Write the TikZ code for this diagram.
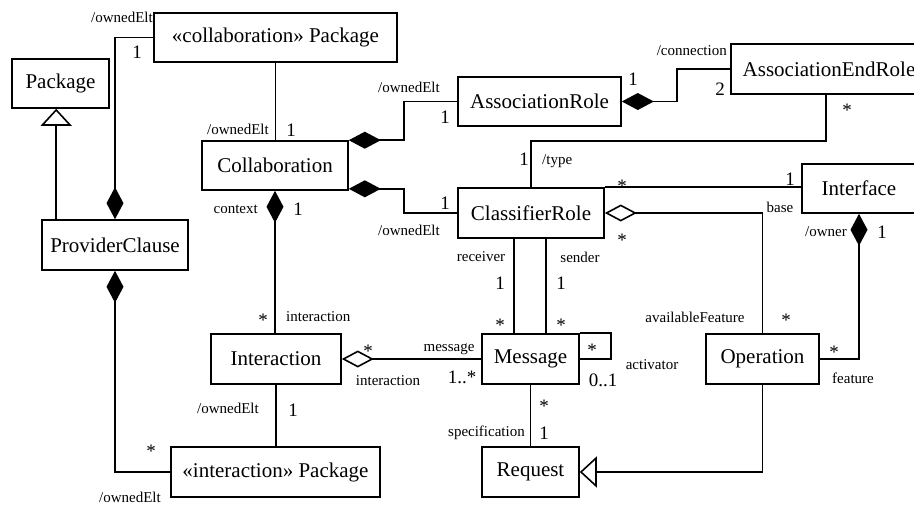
\documentclass[tikz,border=0pt]{standalone}
\usepackage{fontspec}
\setmainfont{Liberation Serif}
\usetikzlibrary{arrows.meta,calc}
\begin{document}
\begin{tikzpicture}[x=1pt,y=-1pt,
 box/.style={draw, line width=1.6pt, inner sep=0pt, font=\fontsize{21}{25}\selectfont},
 lbl/.style={inner sep=0pt, font=\fontsize{15}{18}\selectfont},
 mult/.style={inner sep=0pt, font=\fontsize{19}{22}\selectfont},
 star/.style={mult, yshift=-3pt},
 conn/.style={line width=1.6pt},
 comp/.style={conn, {Diamond[length=32pt,width=17pt]}-},
 aggr/.style={conn, {Diamond[open,length=32pt,width=17pt,fill=white]}-},
 gen/.style={conn, -{Triangle[open,length=17pt,width=31pt,fill=white]}},
]
\useasboundingbox (0,0) rectangle (914,504);

% boxes
\node[box, minimum width=243pt, minimum height=49pt] (cpkg) at (275.5,37.5) {«collaboration» Package};
\node[box, minimum width=97pt, minimum height=49pt] (pkg) at (60.5,83.5) {Package};
\node[box, minimum width=146pt, minimum height=50pt] (prov) at (115,245) {ProviderClause};
\node[box, minimum width=146pt, minimum height=49pt] (collab) at (275,165.5) {Collaboration};
\node[box, minimum width=163pt, minimum height=49pt] (assocrole) at (539.5,101.5) {AssociationRole};
\node[box, minimum width=196pt, minimum height=50pt] (aer) at (829,69) {AssociationEndRole};
\node[box, minimum width=146pt, minimum height=50pt] (classrole) at (531,213) {ClassifierRole};
\node[box, minimum width=114pt, minimum height=49pt] (iface) at (859,188.5) {Interface};
\node[box, minimum width=130pt, minimum height=50pt] (inter) at (276,359) {Interaction};
\node[box, minimum width=97pt, minimum height=50pt] (msg) at (530.5,359) {Message};
\node[box, minimum width=113pt, minimum height=50pt] (oper) at (762.5,359) {Operation};
\node[box, minimum width=209pt, minimum height=50pt] (ipkg) at (275.5,472) {«interaction» Package};
\node[box, minimum width=97pt, minimum height=50pt] (req) at (530.5,472) {Request};

% connectors
\draw[gen] ($(prov.north west)+(15,0)$) coordinate (g1) -- (g1 |- pkg.south);
\draw[comp] (prov.north) |- (cpkg.west);
\draw[conn] (cpkg.south) -- (cpkg.south |- collab.north);
\draw[comp] (collab.north east) -- ++(55,0) |- (assocrole.west);
\draw[comp] ($(collab.south east)+(0,-2)$) -- ++(55,0) |- (classrole.west);
\draw[comp] (assocrole.east) -- ++(55,0) |- (aer.west);
\draw[conn] ($(aer.south west)+(96,0)$) -- ++(0,46) -| (classrole.north);
\draw[conn] (classrole.north east) -- (classrole.north east -| iface.west);
\draw[aggr] (classrole.east) -| (oper.north);
\draw[comp] (iface.south) |- (oper.east);
\draw[conn] ($(classrole.south)+(-17,0)$) coordinate (r1) -- (r1 |- msg.north);
\draw[conn] ($(classrole.south)+(15,0)$) coordinate (s1) -- (s1 |- msg.north);
\draw[comp] (collab.south) -- (collab.south |- inter.north);
\draw[conn] (inter.south) -- (inter.south |- ipkg.north);
\draw[comp] (prov.south) |- (ipkg.west);
\draw[aggr] (inter.east) -- (msg.west);
\draw[conn] (msg.east) -- ++(31,0) |- (msg.north east);
\draw[conn] (msg.south) -- (req.north);
\draw[gen] (oper.south) |- (req.east);

% labels
\node[lbl, anchor=east] (l1) at (153,17) {/ownedElt};
\node[mult] (m1) at (137,52) {1};
\node[lbl, anchor=east] (l2) at (269,129) {/ownedElt};
\node[mult] (m2) at (291,130) {1};
\node[lbl, anchor=east] (l3) at (440,87) {/ownedElt};
\node[mult] (m3) at (445,117) {1};
\node[mult] (m4) at (445,203) {1};
\node[lbl, anchor=east] (l4) at (440,230) {/ownedElt};
\node[lbl, anchor=east] (l5) at (258,209) {context};
\node[mult] (m5) at (298,209) {1};
\node[mult] (m6) at (633,79) {1};
\node[lbl, anchor=east] (l6) at (727,51) {/connection};
\node[mult] (m7) at (720,89) {2};
\node[star] (m8) at (847,107) {*};
\node[mult] (m9) at (524,159) {1};
\node[lbl, anchor=west] (l7) at (542,161) {/type};
\node[star] (m10) at (622,183) {*};
\node[mult] (m11) at (790,179) {1};
\node[lbl] (l8) at (780,207) {base};
\node[star] (m12) at (622,237) {*};
\node[lbl, anchor=east] (l9) at (847,232) {/owner};
\node[mult] (m13) at (882,232) {1};
\node[lbl] (l10) at (481,257) {receiver};
\node[lbl] (l11) at (580,257) {sender};
\node[mult] (m14) at (500,283) {1};
\node[mult] (m15) at (561,283) {1};
\node[star] (m16) at (500,322) {*};
\node[star] (m17) at (561,322) {*};
\node[lbl] (l12) at (695,317) {availableFeature};
\node[star] (m18) at (786,317) {*};
\node[star] (m19) at (834,349) {*};
\node[lbl] (l13) at (853,378) {feature};
\node[star] (m20) at (592,347) {*};
\node[lbl] (l14) at (652,365) {activator};
\node[mult] (m21) at (603,380) {0..1};
\node[mult] (m22) at (462,377) {1..*};
\node[lbl] (l15) at (449,349) {message};
\node[star] (m23) at (368,348) {*};
\node[lbl] (l16) at (388,381) {interaction};
\node[star] (m24) at (263,317) {*};
\node[lbl, anchor=west] (l17) at (286,317) {interaction};
\node[lbl] (l18) at (228,408) {/ownedElt};
\node[mult] (m25) at (293,410) {1};
\node[star] (m26) at (151,448) {*};
\node[lbl] (l19) at (130,497) {/ownedElt};
\node[star] (m27) at (544,403) {*};
\node[mult] (m28) at (544,433) {1};
\node[lbl, anchor=east] (l20) at (525,433) {specification};
\end{tikzpicture}
\end{document}
